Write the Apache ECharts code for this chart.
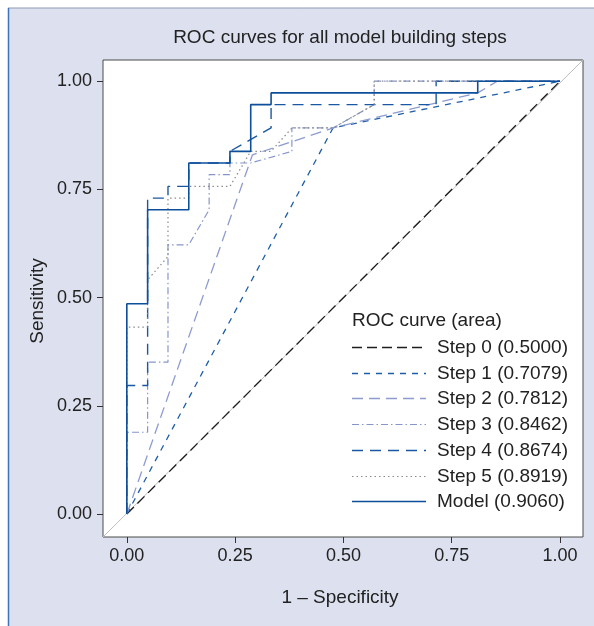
<!DOCTYPE html>
<html><head><meta charset="utf-8">
<script src="https://cdn.jsdelivr.net/npm/echarts@6/dist/echarts.min.js"></script>
<style>html,body{margin:0;padding:0;background:#fff}#c{width:594px;height:626px}</style>
</head><body><div id="c"></div>
<script>
// ---- data ----
const seriesNames = ['Step 0','Step 1','Step 2','Step 3','Step 4','Step 5','Model'];
const seriesAreas = ['0.5000','0.7079','0.7812','0.8462','0.8674','0.8919','0.9060'];

const step0X = [0, 1];
const step0Y = [0, 1];
const step1X = [0, 0.476, 1];
const step1Y = [0, 0.892, 1];
const step2X = [0, 0.29, 0.476, 0.81, 0.855, 1];
const step2Y = [0, 0.83, 0.892, 0.973, 1, 1];
const step3X = [0, 0, 0.048, 0.048, 0.095, 0.095, 0.143, 0.19, 0.19, 0.238, 0.238, 0.286, 0.381, 0.381, 0.476, 0.571, 0.571, 1];
const step3Y = [0, 0.189, 0.189, 0.351, 0.351, 0.622, 0.622, 0.703, 0.784, 0.784, 0.811, 0.811, 0.838, 0.892, 0.892, 0.946, 1, 1];
const step4X = [0, 0, 0.048, 0.048, 0.095, 0.095, 0.143, 0.143, 0.238, 0.238, 0.333, 0.333, 0.714, 0.714, 1];
const step4Y = [0, 0.297, 0.297, 0.730, 0.730, 0.757, 0.757, 0.811, 0.811, 0.838, 0.892, 0.946, 0.946, 1, 1];
const step5X = [0, 0, 0.048, 0.048, 0.095, 0.095, 0.143, 0.143, 0.238, 0.286, 0.333, 0.381, 0.476, 0.571, 0.571, 1];
const step5Y = [0, 0.432, 0.432, 0.541, 0.595, 0.730, 0.730, 0.757, 0.757, 0.838, 0.838, 0.892, 0.892, 0.946, 1, 1];
const modelX = [0, 0, 0.048, 0.048, 0.143, 0.143, 0.238, 0.238, 0.286, 0.286, 0.333, 0.333, 0.810, 0.810, 1];
const modelY = [0, 0.486, 0.486, 0.703, 0.703, 0.811, 0.811, 0.838, 0.838, 0.946, 0.946, 0.973, 0.973, 1, 1];

// corner-to-corner reference diagonal of the plot box
const refX = [-0.055, 1.053];
const refY = [-0.053, 1.049];

const tickValues = [0, 0.25, 0.5, 0.75, 1];
const xRange = [-0.055, 1.053];
const yRange = [-0.053, 1.049];

// ---- styles ----
const FONT = 'Liberation Sans, Arial, sans-serif';
const styles = [
  {color:'#1e1e1e', width:1.3, type:[10,5]},
  {color:'#1f5ea8', width:1.3, type:[6,6]},
  {color:'#8d9bd0', width:1.3, type:[11,6]},
  {color:'#8696cc', width:1.2, type:[7,3,1.5,3]},
  {color:'#1a58a3', width:1.4, type:[11,7]},
  {color:'#8a8a8a', width:1.2, type:[1.5,3]},
  {color:'#0d4f9a', width:1.6, type:'solid'}
];
const xsAll = [step0X, step1X, step2X, step3X, step4X, step5X, modelX];
const ysAll = [step0Y, step1Y, step2Y, step3Y, step4Y, step5Y, modelY];
const zip = (a,b) => a.map((v,i)=>[v,b[i]]);

const legendNames = seriesNames.map((n,i)=>n+' ('+seriesAreas[i]+')');

const series = [{
  name:'ref', type:'line', silent:true, symbol:'none', z:1,
  data: zip(refX, refY),
  lineStyle:{color:'#bdbdbd', width:1}
}];
seriesNames.forEach((n,i)=>{
  series.push({
    name: legendNames[i], type:'line', symbol:'none', z: 2+i,
    data: zip(xsAll[i], ysAll[i]),
    lineStyle: styles[i], itemStyle:{color:styles[i].color},
    emphasis:{disabled:true}
  });
});

// legend drawn as graphics
const legendGraphics = [
  {type:'text', x:352, y:321, z:100, style:{text:'ROC curve (area)', font:'19px '+FONT, fill:'#222', align:'left', verticalAlign:'middle'}}
];
legendNames.forEach((n,i)=>{
  const y = Math.round(347 + i*25.7) + 0.5;
  const st = styles[i];
  legendGraphics.push({type:'line', z:100, shape:{x1:352, y1:y, x2:426, y2:y},
    style:{stroke:st.color, lineWidth:st.width, lineDash: st.type==='solid'?null:st.type}});
  legendGraphics.push({type:'text', z:100, x:437, y:y, style:{text:n, font:'19px '+FONT, fill:'#222', align:'left', verticalAlign:'middle'}});
});

const chart = echarts.init(document.getElementById('c'), null, {renderer:'canvas'});
chart.setOption({
  animation:false,
  backgroundColor:'#ffffff',
  graphic:[
    {type:'rect', z:-10, shape:{x:8, y:8, width:600, height:630}, style:{fill:'#dde1ef', stroke:null}},
    {type:'line', z:-9, shape:{x1:8, y1:8, x2:600, y2:8}, style:{stroke:'#8e99b6', lineWidth:1}},
    {type:'line', z:-9, shape:{x1:8.5, y1:8, x2:8.5, y2:630}, style:{stroke:'#3f72b6', lineWidth:1.5}},
    {type:'text', x:340, y:38, style:{text:'ROC curves for all model building steps', font:'19px '+FONT, fill:'#222', align:'center', verticalAlign:'middle'}},
    {type:'text', x:340, y:598, style:{text:'1 – Specificity', font:'19px '+FONT, fill:'#222', align:'center', verticalAlign:'middle'}},
    {type:'text', x:38, y:301, rotation:Math.PI/2, style:{text:'Sensitivity', font:'19px '+FONT, fill:'#222', align:'center', verticalAlign:'middle'}}
  ].concat(legendGraphics),
  grid:{left:103, right:11, top:60, bottom:89, show:true, backgroundColor:'#ffffff', borderColor:'#4a4a4a', borderWidth:1},
  xAxis:{
    type:'value', min:xRange[0], max:xRange[1],
    axisLine:{show:false, onZero:false}, splitLine:{show:false},
    axisTick:{show:true, length:6, customValues:tickValues, lineStyle:{color:'#333'}},
    axisLabel:{customValues:tickValues, margin:10, fontSize:18, fontFamily:FONT, color:'#222', formatter:v=>v.toFixed(2)}
  },
  yAxis:{
    type:'value', min:yRange[0], max:yRange[1],
    axisLine:{show:false, onZero:false}, splitLine:{show:false},
    axisTick:{show:true, length:6, customValues:tickValues, lineStyle:{color:'#333'}},
    axisLabel:{customValues:tickValues, margin:11, fontSize:18, fontFamily:FONT, color:'#222', formatter:v=>v.toFixed(2)}
  },
  series: series
});
</script></body></html>
